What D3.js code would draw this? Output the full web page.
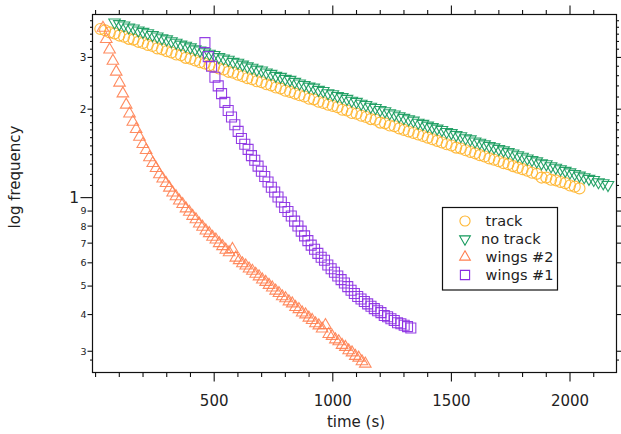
<!DOCTYPE html>
<html>
<head>
<meta charset="utf-8">
<script src="https://cdn.jsdelivr.net/npm/d3@7/dist/d3.min.js"></script>
<style>
  body { margin: 0; background: #fff; }
  svg text { font-family: "DejaVu Sans", Verdana, sans-serif; fill: #222; }
</style>
</head>
<body>
<div id="chart"></div>
<script>
// DATA (time in s, frequency)
const trackTime = [20,40,60,80,100,120,140,160,180,200,220,240,260,280,300,320,340,360,380,400,
  420,440,460,480,500,520,540,560,580,600,620,640,660,680,700,720,740,760,780,800,
  820,840,860,880,900,920,940,960,980,1000,1020,1040,1060,1080,1100,1120,1140,1160,1180,1200,
  1220,1240,1260,1280,1300,1320,1340,1360,1380,1400,1420,1440,1460,1480,1500,1520,1540,1560,1580,1600,
  1620,1640,1660,1680,1700,1720,1740,1760,1780,1800,1820,1840,1860,1880,1900,1920,1940,1960,1980,2000,
  2020,2040]
const trackFreq = [3.75,3.71,3.65,3.62,3.56,3.53,3.47,3.45,3.39,3.36,
  3.31,3.28,3.22,3.20,3.15,3.12,3.07,3.05,2.99,2.97,
  2.93,2.89,2.86,2.82,2.79,2.75,2.73,2.68,2.66,2.62,
  2.59,2.55,2.53,2.49,2.47,2.43,2.41,2.37,2.35,2.31,
  2.29,2.26,2.23,2.21,2.17,2.16,2.12,2.10,2.07,2.05,
  2.03,1.99,1.98,1.94,1.93,1.90,1.88,1.85,1.84,1.80,
  1.79,1.76,1.75,1.72,1.70,1.68,1.66,1.64,1.62,1.60,
  1.58,1.56,1.54,1.52,1.505,1.48,1.47,1.45,1.43,1.415,
  1.395,1.38,1.36,1.345,1.33,1.31,1.30,1.28,1.265,1.25,
  1.235,1.215,1.205,1.17,1.17,1.15,1.145,1.13,1.12,1.10,
  1.09,1.075]

const noTrackTime = [80,100,120,140,160,180,200,220,240,260,280,300,320,340,360,380,400,420,440,460,
  480,500,520,540,560,580,600,620,640,660,680,700,720,740,760,780,800,820,840,860,
  880,900,920,940,960,980,1000,1020,1040,1060,1080,1100,1120,1140,1160,1180,1200,1220,1240,1260,
  1280,1300,1320,1340,1360,1380,1400,1420,1440,1460,1480,1500,1520,1540,1560,1580,1600,1620,1640,1660,
  1680,1700,1720,1740,1760,1780,1800,1820,1840,1860,1880,1900,1920,1940,1960,1980,2000,2020,2040,2060,
  2080,2100,2120,2140,2160]
const noTrackFreq = [3.95,3.90,3.86,3.80,3.77,3.71,3.67,3.63,3.58,3.54,
  3.49,3.46,3.41,3.37,3.32,3.29,3.25,3.20,3.17,3.13,
  3.09,3.06,3.01,2.98,2.95,2.90,2.88,2.84,2.80,2.77,
  2.73,2.71,2.67,2.64,2.60,2.58,2.54,2.52,2.48,2.45,
  2.42,2.39,2.37,2.33,2.31,2.27,2.25,2.22,2.20,2.17,
  2.14,2.12,2.09,2.07,2.04,2.02,1.99,1.97,1.94,1.92,
  1.895,1.87,1.85,1.83,1.80,1.785,1.76,1.74,1.72,1.70,
  1.675,1.66,1.635,1.62,1.595,1.58,1.555,1.54,1.52,1.50,
  1.485,1.465,1.45,1.43,1.415,1.395,1.38,1.36,1.345,1.33,
  1.31,1.30,1.28,1.265,1.25,1.235,1.22,1.205,1.19,1.175,
  1.16,1.15,1.13,1.12,1.105]

const wings2Time = [31,45,59,73,87,101,115,129,143,157,171,185,199,213,227,241,255,269,283,297,
  311,325,339,353,367,381,395,409,423,437,451,465,479,493,507,521,535,549,563,577,
  591,605,619,633,647,661,675,689,703,717,731,745,759,773,787,801,815,829,843,857,
  871,885,899,913,927,941,955,969,983,997,1011,1025,1039,1053,1067,1081,1095,1109,1123,1137]
const wings2Freq = [3.78,3.46,3.19,2.92,2.68,2.46,2.26,2.07,1.93,1.81,
  1.71,1.61,1.52,1.45,1.37,1.31,1.26,1.20,1.16,1.12,
  1.08,1.04,1.01,0.976,0.950,0.918,0.894,0.866,0.843,0.815,
  0.795,0.772,0.756,0.735,0.719,0.699,0.683,0.664,0.651,0.668,
  0.624,0.612,0.597,0.587,0.573,0.563,0.550,0.539,0.526,0.516,
  0.504,0.494,0.482,0.473,0.461,0.454,0.443,0.436,0.424,0.417,
  0.406,0.400,0.390,0.383,0.373,0.367,0.358,0.368,0.343,0.338,
  0.329,0.324,0.315,0.310,0.302,0.297,0.289,0.285,0.277,0.272]

const wings1Time = [461,475,489,503,517,531,545,559,573,587,601,615,629,643,657,671,685,699,713,727,
  741,755,769,783,797,811,825,839,853,867,881,895,909,923,937,951,965,979,993,1007,
  1021,1035,1049,1063,1077,1091,1105,1119,1133,1147,1161,1175,1189,1203,1217,1231,1245,1259,1273,1287,
  1301,1315,1329]
const wings1Freq = [3.37,3.02,2.80,2.57,2.40,2.26,2.11,1.98,1.88,1.77,
  1.68,1.59,1.52,1.46,1.39,1.34,1.28,1.23,1.18,1.13,
  1.085,1.045,1.005,0.966,0.925,0.897,0.866,0.832,0.801,0.769,
  0.741,0.714,0.689,0.667,0.646,0.627,0.612,0.590,0.573,0.557,
  0.541,0.526,0.512,0.498,0.484,0.472,0.461,0.452,0.443,0.435,
  0.427,0.419,0.412,0.406,0.397,0.393,0.387,0.382,0.375,0.372,
  0.368,0.364,0.360]

const seriesNames = ["track", "no track", "wings #2", "wings #1"]
const legendLabels = [" track", "no track", " wings #2", " wings #1"]

// axis ticks
const xMajorTicks = [500, 1000, 1500, 2000]
const xMinorTicks = [0,100,200,300,400,600,700,800,900,1100,1200,1300,1400,1600,1700,1800,1900,2100]
const yBigTicks = [1]
const yUpperTicks = [2, 3]
const yLowerTicks = [0.3, 0.4, 0.5, 0.6, 0.7, 0.8, 0.9]
const yMinorTicks = [0.28, 1.1,1.2,1.3,1.4,1.5,1.6,1.7,1.8,1.9, 2.2,2.4,2.6,2.8, 3.2,3.4,3.6,3.8,4.0]

let width = 621,
    height = 434,
    plot = {left: 92.5, right: 616.5, top: 14.5, bottom: 372.5}

let svg = d3.select("#chart").append("svg")
    .attr("width", width)
    .attr("height", height)

let x = d3.scaleLinear().domain([-13, 2196]).range([plot.left, plot.right])
let y = d3.scaleLog().domain([0.254, 4.2]).range([plot.bottom, plot.top])

//SERIES
let series = [
    {name: seriesNames[0], time: trackTime, freq: trackFreq, color: "#FFB52E", shape: d3.symbolCircle, size: 95, rot: 0},
    {name: seriesNames[1], time: noTrackTime, freq: noTrackFreq, color: "#12995A", shape: d3.symbolTriangle, size: 58, rot: 180},
    {name: seriesNames[2], time: wings2Time, freq: wings2Freq, color: "#FF7F50", shape: d3.symbolTriangle, size: 58, rot: 0},
    {name: seriesNames[3], time: wings1Time, freq: wings1Freq, color: "#8A2BE2", shape: d3.symbolSquare, size: 100, rot: 0}
]

svg.append("clipPath").attr("id", "clip")
    .append("rect")
    .attr("x", plot.left).attr("y", plot.top)
    .attr("width", plot.right - plot.left).attr("height", plot.bottom - plot.top)

let marks = svg.append("g").attr("clip-path", "url(#clip)")
series.forEach(s=>{
    let pts = s.time.map((t,i)=>({t: t, v: s.freq[i]}))
    let sym = d3.symbol().type(s.shape).size(s.size)
    marks.append("g")
        .selectAll("path")
        .data(pts)
        .enter().append("path")
        .attr("d", sym)
        .attr("transform", d=>"translate(" + x(d.t) + "," + y(d.v) + ") rotate(" + s.rot + ")")
        .attr("fill", "none")
        .attr("stroke", s.color)
        .attr("stroke-width", 1.1)
        .attr("stroke-opacity", 0.9)
})

//FRAME
svg.append("rect")
    .attr("x", plot.left).attr("y", plot.top)
    .attr("width", plot.right - plot.left).attr("height", plot.bottom - plot.top)
    .attr("fill", "none").attr("stroke", "#111").attr("stroke-width", 1.2)

//X AXES (bottom labelled, top mirrored)
function xTicks(vals, len, yPos, dir){
    svg.append("g").selectAll("line").data(vals).enter().append("line")
        .attr("x1", d=>x(d)).attr("x2", d=>x(d))
        .attr("y1", yPos).attr("y2", yPos + dir*len)
        .attr("stroke", "#111").attr("stroke-width", 1.1)
}
xTicks(xMajorTicks, 9, plot.bottom, 1)
xTicks(xMinorTicks.filter(d=>x(d) > plot.left + 1), 4.5, plot.bottom, 1)
xTicks(xMajorTicks, 9, plot.top, -1)
xTicks(xMinorTicks.filter(d=>x(d) > plot.left + 1), 4.5, plot.top, -1)

svg.append("g").selectAll("text").data(xMajorTicks).enter().append("text")
    .attr("x", d=>x(d)).attr("y", 405.5)
    .attr("text-anchor", "middle")
    .style("font-size", "15px")
    .text(d=>d)

svg.append("text")
    .attr("x", 356).attr("y", 427)
    .attr("text-anchor", "middle")
    .style("font-size", "15px")
    .text("time (s)")

//Y AXES (left labelled, right mirrored)
function yTicks(vals, len, xPos, dir){
    svg.append("g").selectAll("line").data(vals).enter().append("line")
        .attr("y1", d=>y(d)).attr("y2", d=>y(d))
        .attr("x1", xPos).attr("x2", xPos + dir*len)
        .attr("stroke", "#111").attr("stroke-width", 1.1)
}
yTicks(yBigTicks, 12, plot.left, -1)
yTicks(yUpperTicks.concat(yLowerTicks), 5, plot.left, -1)
yTicks(yMinorTicks, 2.5, plot.left, -1)
yTicks(yBigTicks.concat(yUpperTicks, yLowerTicks), 5, plot.right, 1)
yTicks(yMinorTicks, 2.5, plot.right, 1)

svg.append("g").selectAll("text").data(yUpperTicks).enter().append("text")
    .attr("x", 86.5).attr("y", d=>y(d) + 3.8)
    .attr("text-anchor", "end")
    .style("font-size", "10.5px")
    .text(d=>d)
svg.append("g").selectAll("text").data(yLowerTicks).enter().append("text")
    .attr("x", 86.5).attr("y", d=>y(d) + 3.4)
    .attr("text-anchor", "end")
    .style("font-size", "9.5px")
    .text(d=>Math.round(d*10))
svg.append("g").selectAll("text").data(yBigTicks).enter().append("text")
    .attr("x", 79).attr("y", d=>y(d) + 5.5)
    .attr("text-anchor", "end")
    .style("font-size", "15.5px")
    .text(d=>d)

svg.append("text")
    .attr("transform", "translate(20,177) rotate(-90)")
    .attr("text-anchor", "middle")
    .style("font-size", "15px")
    .text("log frequency")

//LEGEND
let legend = svg.append("g")
legend.append("rect")
    .attr("x", 442.5).attr("y", 207.5)
    .attr("width", 115).attr("height", 82.5)
    .attr("fill", "#fff").attr("stroke", "#111").attr("stroke-width", 1.2)
series.forEach((s,i)=>{
    let ry = 221 + i*18
    legend.append("path")
        .attr("d", d3.symbol().type(s.shape).size(s.size*0.85))
        .attr("transform", "translate(465," + ry + ") rotate(" + s.rot + ")")
        .attr("fill", "none").attr("stroke", s.color).attr("stroke-width", 1.1)
    legend.append("text")
        .attr("x", 481).attr("y", ry + 5)
        .style("font-size", "14.5px")
        .style("white-space", "pre")
        .attr("xml:space", "preserve")
        .text(legendLabels[i])
})
</script>
</body>
</html>
